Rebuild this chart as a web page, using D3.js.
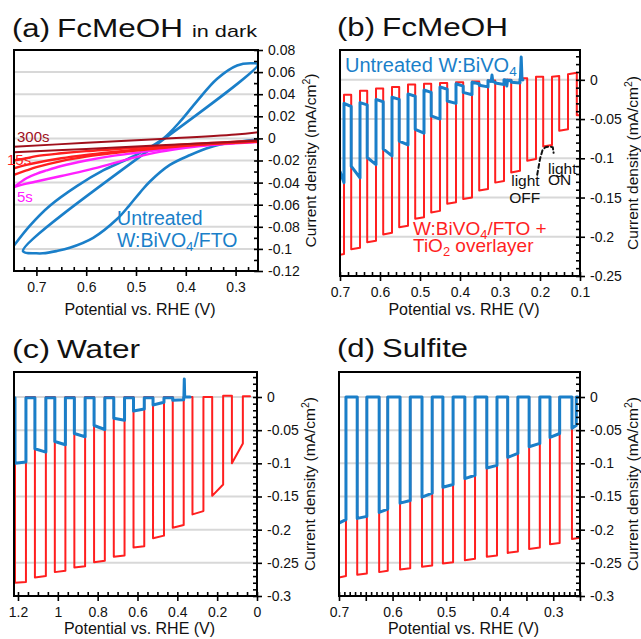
<!DOCTYPE html>
<html><head><meta charset="utf-8">
<script src="https://cdn.jsdelivr.net/npm/d3@7"></script>
<style>
body{margin:0;background:#fff}
svg{display:block;font-family:"Liberation Sans",Arial,Helvetica,sans-serif}
</style>
</head><body>
<script>
// ---------------- DATA ----------------
// Panel (a): CV in dark (potential V, current mA/cm2)
const aBlueUpV = [0.255,0.270,0.297,0.337,0.377,0.410,0.445,0.492,0.518,0.566,0.618,0.673,0.713,0.745];
const aBlueUpJ = [0.067,0.068,0.066,0.054,0.034,0.016,0.000,-0.013,-0.019,-0.029,-0.043,-0.061,-0.079,-0.097];
const aBlueLoV = [0.745,0.727,0.700,0.687,0.660,0.633,0.586,0.538,0.514,0.492,0.472,0.432,0.391,0.351,0.311,0.255];
const aBlueLoJ = [-0.097,-0.102,-0.104,-0.104,-0.102,-0.099,-0.090,-0.073,-0.061,-0.049,-0.039,-0.024,-0.015,-0.008,-0.004,-0.001];
const aRedV    = [0.745,0.72,0.70,0.65,0.60,0.55,0.50,0.45,0.40,0.35,0.30,0.255];
const aRedUp   = [-0.020,-0.018,-0.016,-0.0135,-0.0115,-0.0100,-0.0085,-0.0070,-0.0055,-0.0042,-0.0030,-0.0020];
const aRedMid  = [-0.027,-0.024,-0.022,-0.018,-0.015,-0.0125,-0.0102,-0.0082,-0.0063,-0.0048,-0.0036,-0.0026];
const aRedLo   = [-0.033,-0.029,-0.026,-0.0205,-0.0165,-0.0135,-0.0110,-0.0088,-0.0068,-0.0052,-0.0040,-0.0030];
const aDarkV   = [0.745,0.60,0.45,0.30,0.255];
const aDarkUp  = [-0.0075,-0.0040,-0.0005,0.0035,0.0055];
const aDarkLo  = [-0.0125,-0.0095,-0.0062,-0.0030,-0.0020];
const aMagV    = [0.745,0.72,0.70,0.68,0.65,0.60,0.55,0.50,0.45,0.40,0.35,0.30,0.255];
const aMagUp   = [-0.044,-0.036,-0.032,-0.029,-0.025,-0.020,-0.016,-0.013,-0.010,-0.0075,-0.0055,-0.0040,-0.0030];
const aMagLo   = [-0.044,-0.041,-0.039,-0.037,-0.034,-0.029,-0.023,-0.017,-0.012,-0.0085,-0.0060,-0.0045,-0.0033];

// Panel (b): chopped light, FcMeOH. Edges = switching potentials
const bEdges = [0.700,0.690,0.672,0.650,0.632,0.610,0.592,0.570,0.552,0.530,0.512,0.490,0.472,0.450,0.432,0.410,
                0.392,0.370,0.352,0.330,0.312,0.290,0.272,0.250,0.232,0.210,0.192,0.170,0.152,0.130,0.108,0.100];
const bRed = [[-0.223,-0.222],[-0.019,-0.019],[-0.216,-0.214],[-0.014,-0.014],[-0.207,-0.205],[-0.011,-0.011],
              [-0.197,-0.195],[-0.009,-0.009],[-0.188,-0.186],[-0.006,-0.006],[-0.177,-0.175],[-0.005,-0.005],
              [-0.169,-0.167],[-0.004,-0.004],[-0.158,-0.156],[-0.003,-0.003],[-0.152,-0.150],[-0.002,-0.002],
              [-0.141,-0.139],[-0.001,-0.001],[-0.131,-0.129],[0.000,0.000],[-0.118,-0.116],[0.002,0.002],
              [-0.103,-0.101],[0.004,0.004],[-0.085,-0.083],[0.004,0.005],[-0.065,-0.063],[0.007,0.009],[-0.045,-0.045]];
const bBlue = [[-0.117,-0.131],[-0.030,-0.034],[-0.110,-0.125],[-0.029,-0.032],[-0.099,-0.108],[-0.025,-0.028],
               [-0.088,-0.097],[-0.022,-0.025],[-0.078,-0.083],[-0.018,-0.021],[-0.063,-0.068],[-0.013,-0.016],
               [-0.046,-0.050],[-0.009,-0.012],[-0.027,-0.030],[-0.005,-0.008],[-0.016,-0.019],[-0.003,-0.005],
               [-0.007,-0.009],[-0.001,-0.003],[-0.004,-0.006],[0.000,-0.001],[-0.003,-0.004],[0.001,0.000]];
const bBlueEnd = 0.243;
const bBlueSpikes = [[0.320,0.006],[0.283,-0.008],[0.247,0.029]];
const bDash = [[0.207,-0.121],[0.200,-0.101],[0.194,-0.090],[0.187,-0.086],[0.176,-0.085],[0.168,-0.086],[0.166,-0.093]];

// Panel (c): water
const cEdges = [1.220,1.215,1.160,1.115,1.060,1.015,0.962,0.917,0.863,0.818,0.764,0.719,0.665,0.620,0.566,0.522,
                0.467,0.423,0.368,0.324,0.269,0.225,0.170,0.126,0.071,0.035];
const cRed = [[-0.010,-0.010],[-0.280,-0.279],[0,0],[-0.272,-0.270],[0,0],[-0.264,-0.262],[0,0],[-0.257,-0.255],
              [0,0],[-0.249,-0.247],[0,0],[-0.241,-0.239],[0,0],[-0.227,-0.225],[0,0],[-0.213,-0.209],[0,0],
              [-0.197,-0.193],[0,0],[-0.177,-0.172],[0,0],[-0.149,-0.132],[0.002,0.002],[-0.100,-0.070],[0.001,0.001]];
const cBlue = [[-0.001,-0.001],[-0.100,-0.098],[-0.001,-0.001],[-0.078,-0.083],[-0.001,-0.001],[-0.067,-0.072],
               [-0.001,-0.001],[-0.055,-0.060],[-0.001,-0.001],[-0.043,-0.049],[-0.001,-0.001],[-0.032,-0.035],
               [-0.001,-0.001],[-0.021,-0.018],[-0.001,-0.001],[-0.012,-0.008],[-0.001,-0.001],[-0.005,-0.004],[0,0]];
const cBlueEnd = 0.336;
const cBlueSpikes = [[0.365,0.027]];

// Panel (d): sulfite
const dEdges = [0.700,0.687,0.666,0.648,0.625,0.609,0.586,0.567,0.545,0.526,0.506,0.487,0.465,0.446,0.424,0.405,
                0.385,0.366,0.345,0.325,0.306,0.288,0.265,0.250];
const dRed = [[-0.272,-0.270],[0,0],[-0.268,-0.266],[0,0],[-0.264,-0.262],[0,0],[-0.260,-0.258],[0,0],
              [-0.256,-0.254],[0,0],[-0.251,-0.249],[0,0],[-0.246,-0.244],[0,0],[-0.241,-0.239],[0,0],
              [-0.235,-0.233],[0,0],[-0.229,-0.227],[0,0],[-0.222,-0.220],[0,0],[-0.214,-0.212]];
const dBlue = [[-0.190,-0.185],[0,0],[-0.183,-0.180],[0,0],[-0.174,-0.169],[0,0],[-0.160,-0.156],[0,0],
               [-0.151,-0.145],[0,0],[-0.136,-0.132],[0,0],[-0.123,-0.118],[0,0],[-0.107,-0.103],[0,0],
               [-0.091,-0.085],[0,0],[-0.075,-0.070],[0,0],[-0.061,-0.055],[0,0],[-0.047,-0.043]];
const dBlueEnd = 0.257;
const dBlueTail = [[0.257,0.000],[0.254,0.000]];

// Tick labels
const aYTicks = [0.08,0.06,0.04,0.02,0,-0.02,-0.04,-0.06,-0.08,-0.1,-0.12];
const aYLabels = ["0.08","0.06","0.04","0.02","0","-0.02","-0.04","-0.06","-0.08","-0.1","-0.12"];
const aXTicks = [0.7,0.6,0.5,0.4,0.3];
const aXLabels = ["0.7","0.6","0.5","0.4","0.3"];
const bYTicks = [0,-0.05,-0.1,-0.15,-0.2,-0.25];
const bYLabels = ["0","-0.05","-0.1","-0.15","-0.2","-0.25"];
const bXTicks = [0.7,0.6,0.5,0.4,0.3,0.2,0.1];
const bXLabels = ["0.7","0.6","0.5","0.4","0.3","0.2","0.1"];
const cdYTicks = [0,-0.05,-0.1,-0.15,-0.2,-0.25,-0.3];
const cdYLabels = ["0","-0.05","-0.1","-0.15","-0.2","-0.25","-0.3"];
const cXTicks = [1.2,1.0,0.8,0.6,0.4,0.2,0];
const cXLabels = ["1.2","1","0.8","0.6","0.4","0.2","0"];
const dXTicks = [0.7,0.65,0.6,0.55,0.5,0.45,0.4,0.35,0.3,0.25];
const dXLabels = ["0.7","","0.6","","0.5","","0.4","","0.3",""];

// ---------------- STYLE ----------------
const BLUE = "#1a7fc9", RED = "#ff1f1f", DARKRED = "#a0101c", MAGENTA = "#ff20ff", GRID = "#d8d8d8";
const FONT = '"Liberation Sans", Arial, Helvetica, sans-serif';

const svg = d3.select("body").append("svg").attr("width", 641).attr("height", 639);

function zip(a, b) { return a.map((v, i) => [v, b[i]]); }

function chopPoints(edges, levels, end, spikes, tail) {
  let pts = [];
  levels.forEach((lv, i) => {
    const x0 = edges[i];
    const x1 = (i === levels.length - 1 && end != null) ? end : edges[i + 1];
    pts.push([x0, lv[0]], [x1, lv[1]]);
  });
  (spikes || []).forEach(([v, j]) => {
    for (let i = 0; i < pts.length - 1; i++) {
      const a = pts[i], b = pts[i + 1];
      if (a[0] !== b[0] && a[0] >= v && v > b[0]) {
        const t = (a[0] - v) / (a[0] - b[0]);
        const base = a[1] + t * (b[1] - a[1]);
        pts.splice(i + 1, 0, [Math.min(a[0], v + 0.002), base], [v, j], [Math.max(b[0], v - 0.002), base]);
        break;
      }
    }
  });
  return pts.concat(tail || []);
}

function panel(p) {
  const g = svg.append("g");
  const x = d3.scaleLinear().domain(p.xDom).range([p.box[0], p.box[2]]);
  const y = d3.scaleLinear().domain(p.yDom).range([p.box[3], p.box[1]]);
  const W = p.box[2] - p.box[0], H = p.box[3] - p.box[1];

  // grid
  g.append("g").selectAll("line").data(p.grid).join("line")
    .attr("x1", p.box[0]).attr("x2", p.box[2])
    .attr("y1", d => y(d)).attr("y2", d => y(d))
    .attr("stroke", GRID).attr("stroke-width", 2);

  // data
  svg.append("clipPath").attr("id", "clip" + p.id).append("rect")
    .attr("x", p.box[0]).attr("y", p.box[1]).attr("width", W).attr("height", H);
  const dg = g.append("g").attr("clip-path", `url(#clip${p.id})`);
  p.series.forEach(s => {
    const line = d3.line().x(d => x(d[0])).y(d => y(d[1]));
    if (s.curve) line.curve(d3.curveCatmullRom.alpha(0.5));
    dg.append("path").datum(s.pts).attr("d", line)
      .attr("fill", "none").attr("stroke", s.color).attr("stroke-width", s.w)
      .attr("stroke-linejoin", "round").attr("stroke-linecap", "round")
      .attr("stroke-dasharray", s.dash || null);
  });

  // frame
  g.append("rect").attr("x", p.box[0]).attr("y", p.box[1]).attr("width", W).attr("height", H)
    .attr("fill", "none").attr("stroke", "#000").attr("stroke-width", 2);

  const style = sel => {
    sel.select(".domain").remove();
    sel.selectAll("line").attr("stroke", "#000").attr("stroke-width", 1.6);
    sel.selectAll("text").attr("font-family", FONT).attr("font-size", 14).attr("fill", "#111");
  };
  // minor (inward) ticks
  g.append("g").attr("transform", `translate(${p.box[2]},0)`)
    .call(d3.axisRight(y).tickValues(p.yMinor).tickSizeInner(-4).tickSizeOuter(0).tickFormat(""))
    .call(style);
  g.append("g").attr("transform", `translate(0,${p.box[3]})`)
    .call(d3.axisBottom(x).tickValues(p.xMinor).tickSizeInner(-4).tickSizeOuter(0).tickFormat(""))
    .call(style);
  // major ticks with labels
  const yl = new Map(p.yTicks.map((v, i) => [v, p.yLabels[i]]));
  const xl = new Map(p.xTicks.map((v, i) => [v, p.xLabels[i]]));
  g.append("g").attr("transform", `translate(${p.box[2]},0)`)
    .call(d3.axisRight(y).tickValues(p.yTicks).tickSizeInner(5).tickSizeOuter(0).tickPadding(5)
      .tickFormat(d => yl.get(d)))
    .call(style);
  g.append("g").attr("transform", `translate(0,${p.box[3]})`)
    .call(d3.axisBottom(x).tickValues(p.xTicks).tickSizeInner(5).tickSizeOuter(0).tickPadding(6)
      .tickFormat(d => xl.get(d)))
    .call(style);

  // axis titles
  g.append("text").attr("x", (p.box[0] + p.box[2]) / 2 + 4).attr("y", p.xTitleY)
    .attr("text-anchor", "middle").attr("font-size", 16).attr("fill", "#111")
    .text("Potential vs. RHE (V)");
  const yt = g.append("text")
    .attr("transform", `translate(${p.box[2] + 58},${(p.box[1] + p.box[3]) / 2}) rotate(-90)`)
    .attr("text-anchor", "middle").attr("font-size", 15.5).attr("fill", "#111");
  yt.append("tspan").text("Current density (mA/cm");
  yt.append("tspan").attr("font-size", 10.5).attr("dy", -6).text("2");
  yt.append("tspan").attr("dy", 6).text(")");

  // panel title
  p.title.forEach(t => {
    g.append("text").attr("x", t.x).attr("y", t.y).attr("font-size", t.size).attr("fill", "#111")
      .attr("textLength", t.len).attr("lengthAdjust", "spacingAndGlyphs").text(t.text);
  });

  // annotations (positioned in data units)
  (p.notes || []).forEach(n => {
    const t = g.append("text").attr("x", x(n.at[0])).attr("y", y(n.at[1]))
      .attr("font-size", n.size).attr("fill", n.color);
    let shifted = false;
    n.parts.forEach(part => {
      const ts = t.append("tspan").text(part.t);
      if (part.sub) { ts.attr("font-size", n.size * 0.68).attr("dy", n.size * 0.22); shifted = true; }
      else if (shifted) { ts.attr("dy", -n.size * 0.22); shifted = false; }
    });
  });
  return {x, y};
}

const rng = (a, b, s) => d3.range(Math.round((b - a) / s) + 1).map(i => +(a + i * s).toFixed(4));

// ---------------- PANELS ----------------
panel({
  id: "a", box: [14, 50, 258, 271], xDom: [0.745, 0.255], yDom: [-0.12, 0.08], xTitleY: 315,
  grid: [0.06,0.04,0.02,0,-0.02,-0.04,-0.06,-0.08,-0.1],
  yTicks: aYTicks, yLabels: aYLabels, yMinor: rng(-0.12, 0.08, 0.01),
  xTicks: aXTicks, xLabels: aXLabels, xMinor: rng(0.275, 0.725, 0.025),
  series: [
    {pts: zip(aBlueUpV, aBlueUpJ).reverse().concat(zip(aBlueLoV, aBlueLoJ).slice(1)), color: BLUE, w: 2.6, curve: true},
    {pts: zip(aMagV, aMagUp), color: MAGENTA, w: 2.4, curve: true},
    {pts: zip(aMagV, aMagLo), color: MAGENTA, w: 2.4, curve: true},
    {pts: zip(aRedV, aRedLo), color: RED, w: 2.4, curve: true},
    {pts: zip(aRedV, aRedMid), color: RED, w: 2.4, curve: true},
    {pts: zip(aRedV, aRedUp), color: RED, w: 2.4, curve: true},
    {pts: zip(aDarkV, aDarkLo), color: DARKRED, w: 2, curve: true},
    {pts: zip(aDarkV, aDarkUp), color: DARKRED, w: 2, curve: true}
  ],
  title: [
    {text: "(a)", x: 12, y: 37, size: 25, len: 38},
    {text: "FcMeOH", x: 57, y: 37, size: 25, len: 126},
    {text: "in dark", x: 192, y: 37, size: 17, len: 65}
  ],
  notes: [
    {at: [0.739, -0.0033], size: 15, color: DARKRED, parts: [{t: "300s"}]},
    {at: [0.759, -0.0241], size: 15, color: RED, parts: [{t: "15s"}]},
    {at: [0.739, -0.0576], size: 15, color: MAGENTA, parts: [{t: "5s"}]},
    {at: [0.538, -0.0784], size: 19.5, color: BLUE, parts: [{t: "Untreated"}]},
    {at: [0.538, -0.0983], size: 19.5, color: BLUE, parts: [{t: "W:BiVO"}, {t: "4", sub: true}, {t: "/FTO"}]}
  ]
});

panel({
  id: "b", box: [340, 50, 580, 276], xDom: [0.7, 0.1], yDom: [-0.25, 0.038], xTitleY: 315,
  grid: [0,-0.05,-0.1,-0.15,-0.2],
  yTicks: bYTicks, yLabels: bYLabels, yMinor: rng(-0.25, 0.03, 0.01),
  xTicks: bXTicks, xLabels: bXLabels, xMinor: rng(0.1, 0.7, 0.02),
  series: [
    {pts: chopPoints(bEdges, bRed), color: RED, w: 2},
    {pts: chopPoints(bEdges, bBlue, bBlueEnd, bBlueSpikes), color: BLUE, w: 3},
    {pts: bDash, color: "#111", w: 2, dash: "4,3"}
  ],
  title: [
    {text: "(b)", x: 337, y: 36, size: 25, len: 38},
    {text: "FcMeOH", x: 382, y: 36, size: 25, len: 126}
  ],
  notes: [
    {at: [0.6875, 0.0100], size: 20, color: BLUE, parts: [{t: "Untreated W:BiVO"}, {t: "4", sub: true}]},
    {at: [0.5175, -0.1978], size: 19, color: RED, parts: [{t: "W:BiVO"}, {t: "4", sub: true}, {t: "/FTO +"}]},
    {at: [0.5175, -0.2195], size: 19, color: RED, parts: [{t: "TiO"}, {t: "2", sub: true}, {t: " overlayer"}]},
    {at: [0.272, -0.1353], size: 15.5, color: "#111", parts: [{t: "light"}]},
    {at: [0.277, -0.1565], size: 15.5, color: "#111", parts: [{t: "OFF"}]},
    {at: [0.180, -0.1195], size: 15.5, color: "#111", parts: [{t: "light"}]},
    {at: [0.180, -0.1345], size: 15.5, color: "#111", parts: [{t: "ON"}]}
  ]
});

panel({
  id: "c", box: [14, 372, 257, 596], xDom: [1.22, 0], yDom: [-0.3, 0.0377], xTitleY: 634,
  grid: [0,-0.05,-0.1,-0.15,-0.2,-0.25],
  yTicks: cdYTicks, yLabels: cdYLabels, yMinor: rng(-0.3, 0.03, 0.01),
  xTicks: cXTicks, xLabels: cXLabels, xMinor: rng(0, 1.2, 0.05),
  series: [
    {pts: chopPoints(cEdges, cRed), color: RED, w: 2},
    {pts: chopPoints(cEdges, cBlue, cBlueEnd, cBlueSpikes), color: BLUE, w: 3}
  ],
  title: [
    {text: "(c)", x: 12, y: 358, size: 25, len: 38},
    {text: "Water", x: 57, y: 358, size: 25, len: 83}
  ]
});

panel({
  id: "d", box: [339, 372, 580, 596], xDom: [0.7, 0.25], yDom: [-0.3, 0.0377], xTitleY: 634,
  grid: [0,-0.05,-0.1,-0.15,-0.2,-0.25],
  yTicks: cdYTicks, yLabels: cdYLabels, yMinor: rng(-0.3, 0.03, 0.01),
  xTicks: dXTicks, xLabels: dXLabels, xMinor: rng(0.25, 0.7, 0.01),
  series: [
    {pts: chopPoints(dEdges, dRed), color: RED, w: 2},
    {pts: chopPoints(dEdges, dBlue, dBlueEnd, null, dBlueTail), color: BLUE, w: 3}
  ],
  title: [
    {text: "(d)", x: 337, y: 357, size: 25, len: 38},
    {text: "Sulfite", x: 382, y: 357, size: 25, len: 86}
  ]
});
</script>
</body></html>
